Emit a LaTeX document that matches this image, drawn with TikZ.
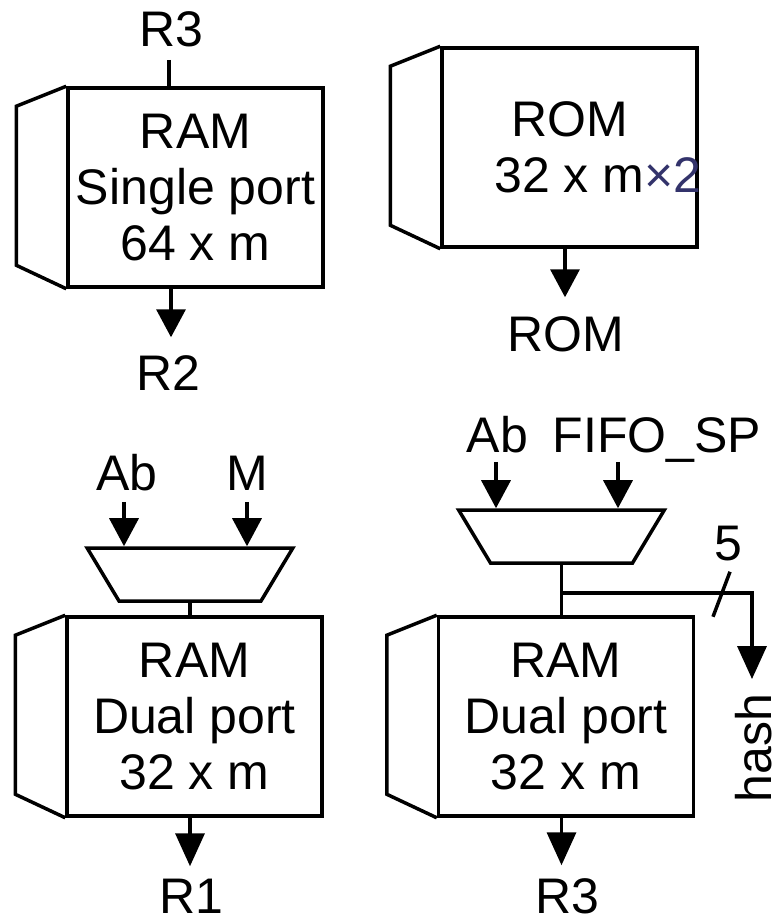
\documentclass[tikz,border=0pt]{standalone}
\usepackage{fontspec}
\setmainfont{Liberation Sans}
\usetikzlibrary{arrows.meta, positioning, shapes.geometric}

\definecolor{timescol}{HTML}{33336B}

\tikzset{
	ramblock/.style={draw, rectangle, minimum width=255pt, minimum height=199pt, inner sep=0pt, align=center},
	ramtext/.style={ramblock, execute at begin node=\rule{0pt}{45pt}},
	muxblock/.style={draw, trapezium, shape border rotate=180, trapezium left angle=59, trapezium right angle=59, inner sep=0pt, text width=142pt, text height=53pt, text depth=0pt},
	siglabel/.style={inner sep=0pt, text height=36pt, text depth=0pt},
	sig/.style={-{Triangle[length=28pt,width=29pt]}},
	siglong/.style={-{Triangle[length=33pt,width=29pt]}}
}

\begin{document}
\begin{tikzpicture}[on grid,line width=3.5pt,font=\fontsize{50}{56}\selectfont]
	\useasboundingbox (0,0) rectangle (774pt,-919pt);
	
	\node (ram1) [ramtext] at (195.5pt,-187.5pt) {RAM\\Single port\\64 x m};
	\node (rom) [ramblock, above right=40pt and 374pt of ram1] {ROM\\32 x m\rlap{\textcolor{timescol}{×2}}};
	\node (ramd) [ramtext, below left=529pt and 1pt of ram1] {RAM\\Dual port\\32 x m};
	\node (rams) [ramtext, right=371.5pt of ramd] {RAM\\Dual port\\32 x m};
	
	\node (mux3) [muxblock, above left=142pt and 4.5pt of ramd] {};
	\node (mux4) [muxblock, above left=180pt and 4.5pt of rams] {};
	
	\node (r3top) [siglabel, above left=159.5pt and 24.5pt of ram1] {R3};
	\node (r2) [siglabel, below left=184.5pt and 27pt of ram1] {R2};
	\node (romout) [siglabel, below left=185.5pt and 3.5pt of rom] {ROM};
	\node (ab3) [siglabel, above left=102.5pt and 63pt of mux3] {Ab};
	\node (m3) [siglabel, above right=102.5pt and 57pt of mux3] {M};
	\node (r1) [siglabel, below left=178.5pt and 3pt of ramd] {R1};
	\node (ab4) [siglabel, above left=102.5pt and 64pt of mux4] {Ab};
	\node (fifo) [siglabel, above right=102.5pt and 95.5pt of mux4] {FIFO\_SP};
	\node (r3) [siglabel, below right=178.5pt and 1pt of rams] {R3};
	\node (five) [siglabel, below right=5.5pt and 166.5pt of mux4] {5};
	\node (hash) [siglabel, rotate=90, below right=31.5pt and 187pt of rams] {hash};
	
	% side ports of the memories
	\foreach \blk in {ram1,rom,ramd,rams}
		\draw (\blk.north west) -- ++(-50pt,-20pt) -- ++(0,-159pt) -- (\blk.south west);
	
	\coordinate (branch) at ([yshift=-28pt]mux4.south);
	
	\path [draw]
	([xshift=-2pt,yshift=-12pt]r3top.south) edge ([xshift=-2pt]r3top.south |- ram1.north)
	(mux3.south) edge (mux3.south |- ramd.north)
	(mux4.south) edge (mux4.south |- rams.north)
	([shift={(2pt,-10pt)}]five.south) edge ([shift={(-15pt,-55pt)}]five.south);
	
	\path [sig]
	([xshift=2.5pt]r2.north |- ram1.south) edge ([xshift=2.5pt,yshift=15pt]r2.north)
	([xshift=-1pt]romout.north |- rom.south) edge ([xshift=-1pt,yshift=16pt]romout.north)
	([xshift=-3pt,yshift=-10pt]ab3.south) edge ([xshift=-3pt]ab3.south |- mux3.north)
	([yshift=-10pt]m3.south) edge (m3.south |- mux3.north)
	([xshift=-1.5pt,yshift=-8pt]ab4.south) edge ([xshift=-1.5pt]ab4.south |- mux4.north)
	([xshift=-39pt,yshift=-8pt]fifo.south) edge ([xshift=-39pt]fifo.south |- mux4.north);
	
	\path [siglong]
	([xshift=-1.5pt]r1.north |- ramd.south) edge ([xshift=-1.5pt,yshift=9pt]r1.north)
	([xshift=-5.5pt]r3.north |- rams.south) edge ([xshift=-5.5pt,yshift=10pt]r3.north);
	
	\draw [siglong] (branch) -| ([xshift=-1pt,yshift=13pt]hash.east);
	
\end{tikzpicture}
\end{document}
